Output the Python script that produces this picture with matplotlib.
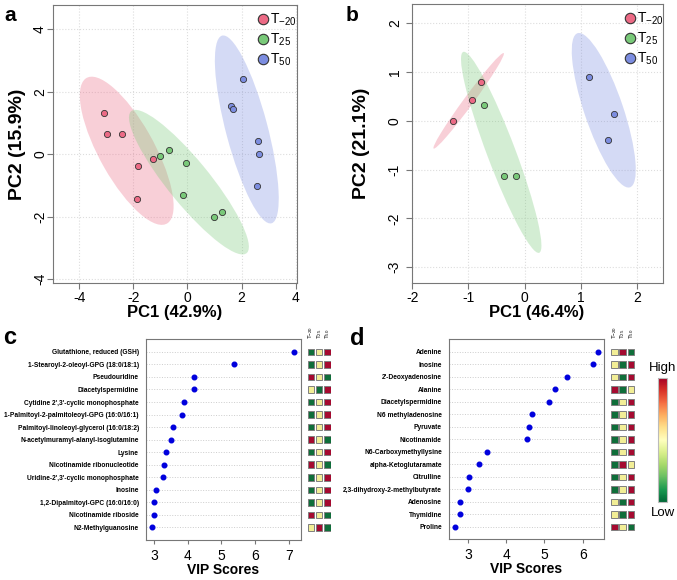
import numpy as np
import matplotlib.pyplot as plt
from matplotlib.patches import Ellipse, Rectangle
from matplotlib.lines import Line2D
from matplotlib.cm import ScalarMappable
from matplotlib.colors import Normalize

plt.rcParams['font.family'] = ['Liberation Sans', 'DejaVu Sans']
plt.rcParams['mathtext.fontset'] = 'custom'
plt.rcParams['mathtext.rm'] = 'Liberation Sans'
plt.rcParams['axes.unicode_minus'] = False

# === PCA scores, panel a ===
a_t20_pc1 = [-3.10, -2.97, -2.41, -1.83, -1.87, -1.29]
a_t20_pc2 = [1.32, 0.66, 0.63, -0.37, -1.42, -0.17]
a_t25_pc1 = [-1.02, -0.69, -0.04, -0.17, 0.98, 1.27]
a_t25_pc2 = [-0.05, 0.12, -0.27, -1.31, -2.01, -1.85]
a_t50_pc1 = [2.07, 1.60, 1.67, 2.62, 2.63, 2.58]
a_t50_pc2 = [2.39, 1.53, 1.43, 0.41, -0.01, -1.01]

# === PCA scores, panel b ===
b_t20_pc1 = [-1.28, -0.93, -0.78]
b_t20_pc2 = [0.00, 0.44, 0.80]
b_t25_pc1 = [-0.73, -0.37, -0.15]
b_t25_pc2 = [0.33, -1.13, -1.13]
b_t50_pc1 = [1.15, 1.60, 1.48]
b_t50_pc2 = [0.90, 0.15, -0.39]

group_labels = ['T$_{\\mathregular{-20}}$', 'T$_{\\mathregular{25}}$', 'T$_{\\mathregular{50}}$']
group_colors = ['#EC6A85', '#79C979', '#7C8DE0']

# === VIP scores, panel c ===
c_names = ['Glutathione, reduced (GSH)', '1-Stearoyl-2-oleoyl-GPG (18:0/18:1)', 'Pseudouridine',
           'Diacetylspermidine', "Cytidine 2',3'-cyclic monophosphate",
           '1-Palmitoyl-2-palmitoleoyl-GPG (16:0/16:1)', 'Palmitoyl-linoleoyl-glycerol (16:0/18:2)',
           'N-acetylmuramyl-alanyl-isoglutamine', 'Lysine', 'Nicotinamide ribonucleotide',
           "Uridine-2',3'-cyclic monophosphate", 'Inosine', '1,2-Dipalmitoyl-GPC (16:0/16:0)',
           'Nicotinamide riboside', 'N2-Methylguanosine']
c_vip = [7.15, 5.36, 4.19, 4.19, 3.90, 3.84, 3.56, 3.49, 3.34, 3.30, 3.27, 3.05, 3.00, 2.99, 2.93]
# relative level per group (0 low, 1 mid, 2 high): T-20, T25, T50
c_heat = [[0, 1, 2], [0, 1, 2], [2, 1, 0], [1, 0, 2], [0, 1, 2], [0, 1, 2], [0, 1, 2],
          [2, 1, 0], [0, 1, 2], [2, 1, 0], [0, 1, 2], [0, 1, 2], [0, 1, 2], [2, 1, 0],
          [1, 2, 0]]

# === VIP scores, panel d ===
d_names = ['Adenine', 'Inosine', "2'-Deoxyadenosine", 'Alanine', 'Diacetylspermidine',
           'N6 methyladenosine', 'Pyruvate', 'Nicotinamide', 'N6-Carboxymethyllysine',
           'alpha-Ketoglutaramate', 'Citrulline', '2,3-dihydroxy-2-methylbutyrate',
           'Adenosine', 'Thymidine', 'Proline']
d_vip = [6.41, 6.27, 5.60, 5.27, 5.12, 4.67, 4.60, 4.55, 3.49, 3.28, 3.03, 3.01, 2.80, 2.80, 2.65]
d_heat = [[1, 2, 0], [1, 0, 2], [1, 0, 2], [2, 0, 1], [0, 1, 2], [0, 1, 2], [0, 1, 2],
          [0, 1, 2], [0, 1, 2], [0, 2, 1], [0, 1, 2], [0, 1, 2], [1, 0, 2], [1, 0, 2],
          [2, 1, 0]]

level_colors = ['#0F6E3A', '#F2EE96', '#A50A30']

W, H = 677, 580
fig = plt.figure(figsize=(W / 100, H / 100), dpi=100)


def px_axes(x0, y0, x1, y1):
    return fig.add_axes([x0 / W, 1 - y1 / H, (x1 - x0) / W, (y1 - y0) / H])


def conf_ellipse(ax, x, y, color):
    cov = np.cov(x, y)
    vals, vecs = np.linalg.eigh(cov)
    order = vals.argsort()[::-1]
    vals, vecs = vals[order], vecs[:, order]
    angle = np.degrees(np.arctan2(vecs[1, 0], vecs[0, 0]))
    k = np.sqrt(5.991)
    ax.add_patch(Ellipse((np.mean(x), np.mean(y)), 2 * k * np.sqrt(vals[0]), 2 * k * np.sqrt(vals[1]),
                         angle=angle, facecolor=color, alpha=0.32, edgecolor='none', zorder=1))


def pca_panel(ax, xs, ys, xlabel, ylabel, xlim, ylim, yticks, ypad, ylabpad):
    for x, y, c in zip(xs, ys, group_colors):
        conf_ellipse(ax, x, y, c)
    for x, y, c in zip(xs, ys, group_colors):
        ax.scatter(x, y, s=20, color=c, edgecolor='#333333', linewidth=0.6, zorder=3)
    ax.set_xlim(xlim)
    ax.set_ylim(ylim)
    ax.set_yticks(yticks)
    ax.grid(True, color='#dddddd', linestyle=':', linewidth=0.8)
    ax.set_axisbelow(True)
    for s in ax.spines.values():
        s.set_color('#777777')
    ax.tick_params(colors='#777777', labelcolor='black', labelsize=10, length=4)
    ax.tick_params(axis='x', pad=1.5)
    ax.tick_params(axis='y', pad=ypad)
    plt.setp(ax.get_yticklabels(), rotation=90, va='center')
    ax.set_xlabel(xlabel, fontsize=12, fontweight='bold', labelpad=0)
    ax.set_ylabel(ylabel, fontsize=14, fontweight='bold', labelpad=ylabpad)
    handles = [Line2D([], [], marker='o', linestyle='none', markersize=7.5, markerfacecolor=c,
                      markeredgecolor='#333333', markeredgewidth=0.8) for c in group_colors]
    ax.legend(handles, group_labels, loc='upper right', bbox_to_anchor=(1.03, 1.0), frameon=False,
              fontsize=10, handletextpad=-0.1, labelspacing=0.25, borderaxespad=0.1, handlelength=1.2)


# === Panel a ===
ax_a = px_axes(53.3, 5, 296.7, 283.3)
pca_panel(ax_a, [a_t20_pc1, a_t25_pc1, a_t50_pc1], [a_t20_pc2, a_t25_pc2, a_t50_pc2],
          'PC1 (42.9%)', 'PC2 (15.9%)', (-4.96, 4.04), (-4.13, 4.77), [-4, -2, 0, 2, 4], 0.5, 5)

# === Panel b ===
ax_b = px_axes(411.5, 4, 662.7, 283.3)
pca_panel(ax_b, [b_t20_pc1, b_t25_pc1, b_t50_pc1], [b_t20_pc2, b_t25_pc2, b_t50_pc2],
          'PC1 (46.4%)', 'PC2 (21.1%)', (-2.015, 2.46), (-3.33, 2.40), [-3, -2, -1, 0, 1, 2], 3, 13)
ax_b.set_xticks([-2, -1, 0, 1, 2])


def vip_panel(ax, hax, names, vip, heat, xlim, xticks):
    n = len(names)
    rows = np.arange(n, 0, -1)
    for r in rows:
        ax.axhline(r, color='#cccccc', linestyle=':', linewidth=0.7, zorder=1)
    ax.scatter(vip, rows, s=11, color='#0000DD', zorder=3)
    ax.set_xlim(xlim)
    ax.set_ylim(0, n + 1)
    ax.set_xticks(xticks)
    ax.set_yticks(rows)
    ax.set_yticklabels(names, fontsize=4.8, fontweight='bold')
    ax.tick_params(axis='y', length=0, pad=5)
    ax.tick_params(axis='x', colors='#777777', labelcolor='black', labelsize=10, length=3)
    for s in ax.spines.values():
        s.set_color('#777777')
    ax.set_xlabel('VIP Scores', fontsize=10, fontweight='bold', labelpad=0)

    hax.set_xlim(0, 3)
    hax.set_ylim(0, n + 1)
    hax.axis('off')
    for i, r in enumerate(rows):
        for j in range(3):
            hax.add_patch(Rectangle((j + 0.1, r - 0.26), 0.8, 0.52, facecolor=level_colors[heat[i][j]],
                                    edgecolor='#7f7f7f', linewidth=0.7))
    for j, lab in enumerate(group_labels):
        hax.text(j + 0.5, n + 1.05, lab, rotation=90, ha='center', va='bottom', fontsize=4.5)


# === Panel c ===
ax_c = px_axes(145.7, 339.3, 301, 540)
hax_c = px_axes(306.8, 339.3, 331.4, 540)
vip_panel(ax_c, hax_c, c_names, c_vip, c_heat, (2.75, 7.36), [3, 4, 5, 6, 7])

# === Panel d ===
ax_d = px_axes(448.7, 339.3, 604.3, 539.3)
hax_d = px_axes(610.3, 339.3, 635.3, 539.3)
vip_panel(ax_d, hax_d, d_names, d_vip, d_heat, (2.495, 6.565), [3, 4, 5, 6])

# colour key
cax = px_axes(658.3, 377.7, 667.3, 502.3)
cb = fig.colorbar(ScalarMappable(norm=Normalize(0, 1), cmap='RdYlGn_r'), cax=cax, ticks=[])
cb.outline.set_edgecolor('#bbbbbb')
fig.text(662.8 / W, 1 - 368 / H, 'High', ha='center', va='center', fontsize=9.5)
fig.text(662.8 / W, 1 - 513 / H, 'Low', ha='center', va='center', fontsize=9.5)

# panel letters
fig.text(4 / W, 1 - 21 / H, 'a', fontsize=15, fontweight='bold')
fig.text(346 / W, 1 - 21 / H, 'b', fontsize=15, fontweight='bold')
fig.text(3 / W, 1 - 344 / H, 'c', fontsize=17, fontweight='bold')
fig.text(350 / W, 1 - 345 / H, 'd', fontsize=17, fontweight='bold')

fig.savefig('out.png', dpi=100)
